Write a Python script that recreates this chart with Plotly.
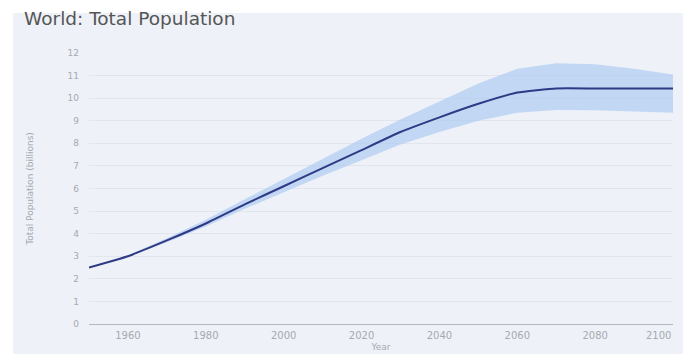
import plotly.graph_objects as go

years = [1950, 1960, 1970, 1980, 1990, 2000, 2010, 2020, 2030, 2040,
         2050, 2060, 2070, 2080, 2090, 2100]
median = [2.5, 3.0, 3.7, 4.45, 5.3, 6.1, 6.9, 7.7, 8.5, 9.15,
          9.75, 10.25, 10.43, 10.43, 10.43, 10.43]
upper = [2.5, 3.04, 3.8, 4.62, 5.52, 6.42, 7.32, 8.2, 9.05, 9.85,
         10.65, 11.3, 11.55, 11.5, 11.3, 11.05]
lower = [2.5, 2.97, 3.62, 4.32, 5.1, 5.84, 6.56, 7.25, 7.95, 8.5,
         9.0, 9.35, 9.48, 9.47, 9.42, 9.35]

x_ticks = [1960, 1980, 2000, 2020, 2040, 2060, 2080]
end_tick = "2100"
y_ticks = list(range(0, 13))

title_text = "World: Total Population"
x_title = "Year"
y_title = "Total Population (billions)"

font = "DejaVu Sans"
bg = "#eef2f8"
tick_col = "#a6a9b0"

fig = go.Figure()
fig.add_trace(go.Scatter(x=years, y=upper, mode="lines", line=dict(width=0),
                         showlegend=False, hoverinfo="skip"))
fig.add_trace(go.Scatter(x=years, y=lower, mode="lines", line=dict(width=0),
                         fill="tonexty", fillcolor="rgba(172,202,240,0.68)",
                         showlegend=False, hoverinfo="skip"))
fig.add_trace(go.Scatter(x=years, y=median, mode="lines",
                         line=dict(color="#2f3a86", width=2, shape="spline", smoothing=0.4),
                         showlegend=False))

fig.update_layout(
    width=689, height=354,
    margin=dict(l=89, r=16, t=53, b=30),
    paper_bgcolor="white",
    plot_bgcolor=bg,
    title=dict(text=title_text, x=24 / 689, xref="container", xanchor="left",
               y=1 - 19 / 354, yref="container", yanchor="middle",
               font=dict(family=font, size=18.5, color="#555555")),
    xaxis=dict(range=[1950, 2100], tickvals=x_ticks, ticktext=[str(v) for v in x_ticks],
               showgrid=False, zeroline=False, showline=True, linecolor="#b4b7be",
               linewidth=1, ticks="", ticklabelstandoff=2, automargin=False,
               tickfont=dict(family=font, size=10, color=tick_col),
               title=dict(text=x_title, font=dict(family=font, size=9, color=tick_col),
                          standoff=3)),
    yaxis=dict(range=[0, 12], tickvals=y_ticks, showgrid=True, gridcolor="#e1e5ed",
               gridwidth=1, zeroline=False, ticks="", ticklabelstandoff=9, automargin=False,
               tickfont=dict(family=font, size=9, color=tick_col),
               title=dict(text=y_title, font=dict(family=font, size=9, color=tick_col),
                          standoff=32)),
    shapes=[dict(type="rect", xref="paper", yref="paper", layer="below",
                 x0=-0.13, x1=1.017, y0=-0.12, y1=1.148,
                 fillcolor=bg, line=dict(width=0))],
    annotations=[dict(text=end_tick, x=2100, y=0, xref="x", yref="y",
                      xanchor="right", yanchor="top", yshift=-4, showarrow=False,
                      font=dict(family=font, size=10, color=tick_col))],
)

fig.write_html("out.html")
